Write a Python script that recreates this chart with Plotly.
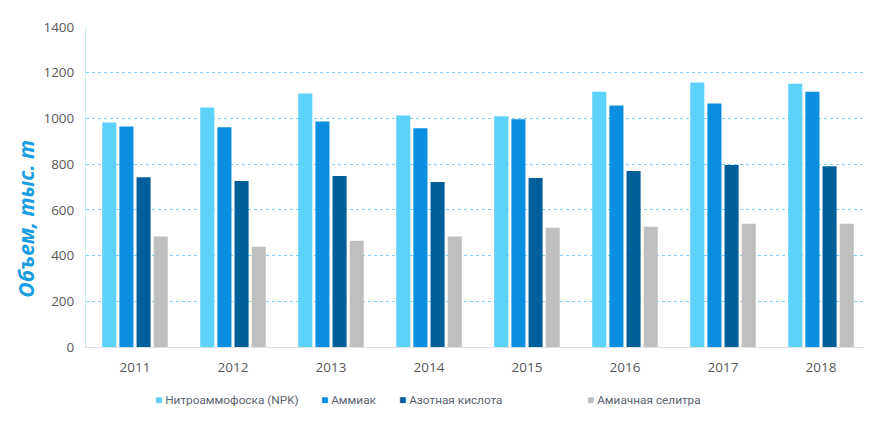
import plotly.graph_objects as go

years = ["2011", "2012", "2013", "2014", "2015", "2016", "2017", "2018"]
npk = [982, 1048, 1109, 1013, 1009, 1117, 1157, 1152]
ammiak = [965, 961, 987, 957, 996, 1057, 1065, 1117]
azot = [743, 726, 748, 722, 739, 770, 796, 791]
selitra = [483, 439, 465, 483, 522, 526, 539, 539]

names = ["Нитроаммофоска (NPK)", "Аммиак", "Азотная кислота", "Амиачная селитра"]
colors = ["#5CD2FA", "#0A8FE0", "#005E99", "#BFBFBF"]
series = [npk, ammiak, azot, selitra]
legend_x = [0.086, 0.297, 0.397, 0.637]
y_title = "Объем, тыс. т"

fig = go.Figure()
for n, c, v in zip(names, colors, series):
    fig.add_trace(go.Bar(x=years, y=v, name=n, marker=dict(color=c, line=dict(width=0)),
                         showlegend=False))

for n, c, lx in zip(names, colors, legend_x):
    fig.add_annotation(xref="paper", yref="paper", x=lx, y=-0.165, xanchor="left", yanchor="middle",
                       showarrow=False,
                       text=f"<span style='color:{c};font-size:12px'>■</span> {n}",
                       font=dict(family="Roboto", size=11.8, color="#5A6470"))

fig.add_annotation(xref="paper", yref="paper", x=-0.077, y=0.40, xanchor="center", yanchor="middle",
                   showarrow=False, textangle=-90,
                   text=f"<b><i>{y_title}</i></b>",
                   font=dict(family="Open Sans", size=21, color="#1A9EE2"))

fig.update_layout(
    width=872, height=424,
    margin=dict(l=78, r=10, t=17, b=85),
    paper_bgcolor="white", plot_bgcolor="white",
    barmode="group", bargap=0.30, bargroupgap=0.18,
    font=dict(family="Open Sans", color="#595959", size=13),
    xaxis=dict(showgrid=False, showline=True, linecolor="#E0E0E0", linewidth=1,
               ticks="", ticklabelstandoff=8, tickfont=dict(size=13.5, color="#595959")),
    yaxis=dict(range=[0, 1400], dtick=200, showgrid=True, gridcolor="#7FD0F5",
               griddash="dot", gridwidth=1, zeroline=False, showline=True,
               linecolor="#C8ECFA", linewidth=1, ticks="",
               ticklabelstandoff=8,
               tickfont=dict(size=13.5, color="#595959")),
)
fig.write_html("out.html")
